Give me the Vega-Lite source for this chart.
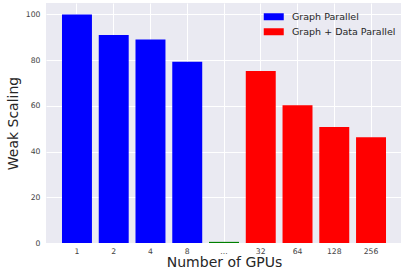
{
  "$schema": "https://vega.github.io/schema/vega-lite/v6.json",
  "width": 356,
  "height": 240,
  "autosize": "none",
  "padding": {"left": 46, "top": 3, "right": 0, "bottom": 27},
  "background": "white",
  "view": {"fill": "#EAEAF2", "stroke": null},
  "config": {"font": "DejaVu Sans"},
  "data": {
    "values": [
      {"gpus": "1", "value": 100, "group": "Graph Parallel"},
      {"gpus": "2", "value": 91, "group": "Graph Parallel"},
      {"gpus": "4", "value": 89, "group": "Graph Parallel"},
      {"gpus": "8", "value": 79.3, "group": "Graph Parallel"},
      {"gpus": "...", "value": 0.5, "group": "gap"},
      {"gpus": "32", "value": 75.3, "group": "Graph + Data Parallel"},
      {"gpus": "64", "value": 60.3, "group": "Graph + Data Parallel"},
      {"gpus": "128", "value": 50.7, "group": "Graph + Data Parallel"},
      {"gpus": "256", "value": 46.3, "group": "Graph + Data Parallel"}
    ]
  },
  "mark": {"type": "bar"},
  "encoding": {
    "x": {
      "field": "gpus",
      "type": "ordinal",
      "sort": ["1", "2", "4", "8", "...", "32", "64", "128", "256"],
      "scale": {"paddingInner": 0.185, "paddingOuter": 0.435},
      "axis": {
        "title": "Number of GPUs",
        "titleFontSize": 14,
        "titleFontWeight": "normal",
        "titleColor": "#262626",
        "titleBaseline": "alphabetic",
        "titleY": 23.5,
        "labelAngle": 0,
        "labelFontSize": 7.7,
        "labelColor": "#444444",
        "labelPadding": 4,
        "labelOverlap": false,
        "labelBound": false,
        "ticks": false,
        "domain": false,
        "grid": true,
        "gridColor": "white",
        "gridWidth": 1,
        "bandPosition": 0.5
      }
    },
    "y": {
      "field": "value",
      "type": "quantitative",
      "scale": {"domain": [0, 105], "nice": false},
      "axis": {
        "title": "Weak Scaling",
        "titleFontSize": 14,
        "titleFontWeight": "normal",
        "titleColor": "#262626",
        "titlePadding": 5,
        "values": [0, 20, 40, 60, 80, 100],
        "labelFontSize": 7.7,
        "labelColor": "#444444",
        "labelPadding": 6,
        "ticks": false,
        "domain": false,
        "grid": true,
        "gridColor": "white",
        "gridWidth": 1
      }
    },
    "color": {
      "field": "group",
      "type": "nominal",
      "scale": {
        "domain": ["Graph Parallel", "Graph + Data Parallel", "gap"],
        "range": ["#0000ff", "#ff0000", "#008000"]
      },
      "legend": {
        "values": ["Graph Parallel", "Graph + Data Parallel"],
        "title": null,
        "orient": "none",
        "legendX": 223,
        "legendY": 9,
        "padding": 0,
        "symbolType": "M-2.857,-1L2.857,-1L2.857,1L-2.857,1Z",
        "symbolSize": 49,
        "symbolStrokeWidth": 0,
        "symbolOpacity": 1,
        "labelFontSize": 9.5,
        "labelColor": "#262626",
        "labelOffset": 13.5,
        "rowPadding": 4
      }
    }
  }
}
